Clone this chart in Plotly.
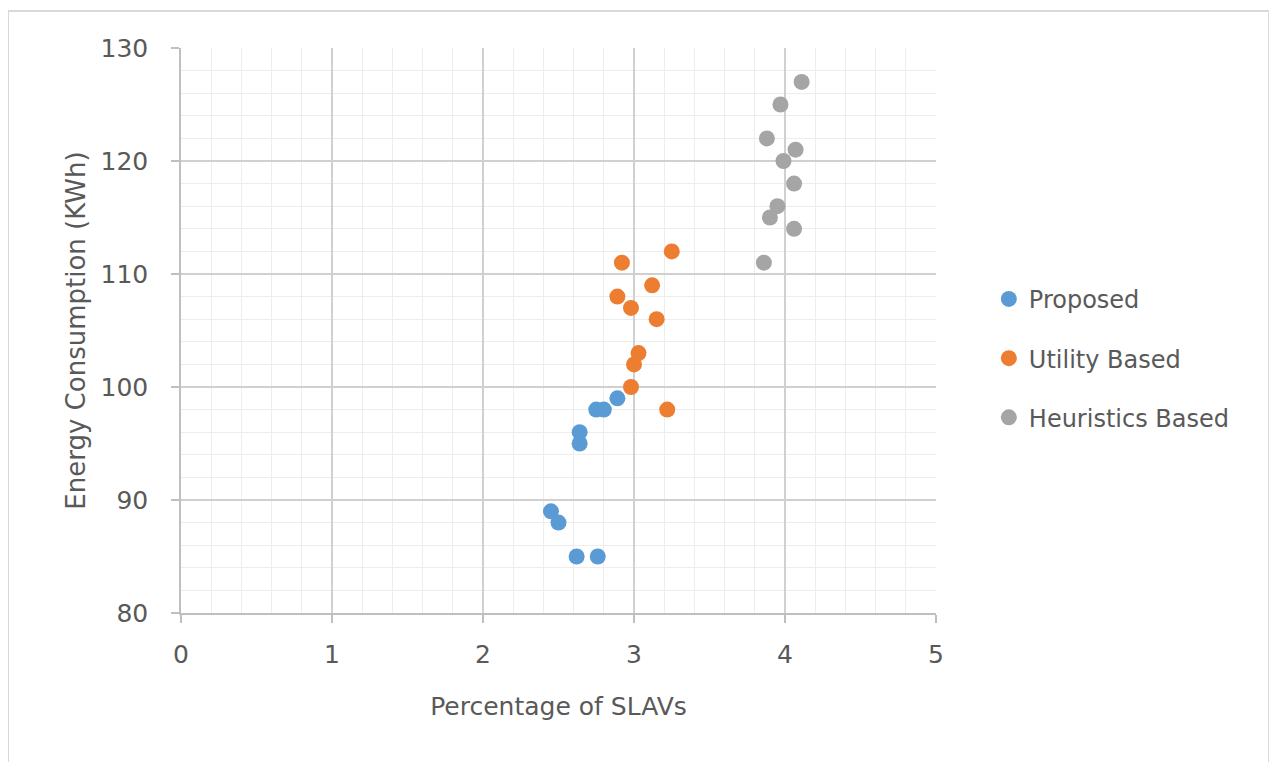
import plotly.graph_objects as go

proposed_x = [2.45, 2.50, 2.62, 2.76, 2.64, 2.64, 2.75, 2.80, 2.89]
proposed_y = [89, 88, 85, 85, 96, 95, 98, 98, 99]

utility_x = [3.25, 2.92, 3.12, 2.89, 2.98, 3.15, 3.03, 3.00, 2.98, 3.22]
utility_y = [112, 111, 109, 108, 107, 106, 103, 102, 100, 98]

heuristics_x = [4.11, 3.97, 3.88, 4.07, 3.99, 4.06, 3.95, 3.90, 4.06, 3.86]
heuristics_y = [127, 125, 122, 121, 120, 118, 116, 115, 114, 111]

series_names = ["Proposed", "Utility Based", "Heuristics Based"]
series_colors = ["#5B9BD5", "#ED7D31", "#A5A5A5"]

x_ticks = [0, 1, 2, 3, 4, 5]
y_ticks = [80, 90, 100, 110, 120, 130]

FONT = "DejaVu Sans"
TXT = "#595959"

fig = go.Figure()
for name, xs, ys, col in zip(series_names,
                             [proposed_x, utility_x, heuristics_x],
                             [proposed_y, utility_y, heuristics_y],
                             series_colors):
    fig.add_trace(go.Scatter(
        x=xs, y=ys, mode="markers", name=name, legendgroup=name,
        marker=dict(color=col, size=16, line=dict(width=0)),
    ))

axis_common = dict(
    showline=True, linecolor="#BFBFBF", linewidth=1.5,
    gridcolor="#D0D0D0", gridwidth=1.5,
    ticks="outside", ticklen=8, tickcolor="#BFBFBF", tickwidth=1.5,
    tickfont=dict(family=FONT, size=25, color=TXT),
    zeroline=False,
)

# plot area: figure x 173..928, y 40..605 (page adds 8px body margin)
L, T, W, H = 173, 40, 755, 565

fig.update_xaxes(
    range=[0, 5], tickvals=x_ticks, ticktext=[str(v) for v in x_ticks],
    minor=dict(dtick=0.2, showgrid=True, gridcolor="#EDEDED", gridwidth=1),
    title=dict(text="Percentage of SLAVs", font=dict(family=FONT, size=25, color=TXT), standoff=30),
    ticklabelstandoff=10,
    **axis_common,
)
fig.update_yaxes(
    range=[80, 130], tickvals=y_ticks, ticktext=[str(v) for v in y_ticks],
    minor=dict(dtick=2, showgrid=True, gridcolor="#EDEDED", gridwidth=1),
    title=dict(text="Energy Consumption (KWh)", font=dict(family=FONT, size=26, color=TXT), standoff=7),
    ticklabelstandoff=18,
    **axis_common,
)

fig.update_layout(
    width=1277, height=762,
    margin=dict(l=L, r=1277 - L - W, t=T, b=762 - T - H, autoexpand=False),
    paper_bgcolor="white", plot_bgcolor="white",
    legend=dict(
        x=1.07, y=0.595, xanchor="left", yanchor="top",
        font=dict(family=FONT, size=24, color=TXT),
        tracegroupgap=25, itemwidth=30, bgcolor="rgba(0,0,0,0)",
    ),
    showlegend=True,
)

fig.add_shape(
    type="rect", xref="paper", yref="paper",
    x0=(0 - L) / W, x1=(1261 - L) / W,
    y0=(T + H - 800) / H, y1=(T + H - 3) / H,
    line=dict(color="#D9D9D9", width=2), fillcolor="rgba(0,0,0,0)",
    layer="below",
)

fig.write_html("out.html")
